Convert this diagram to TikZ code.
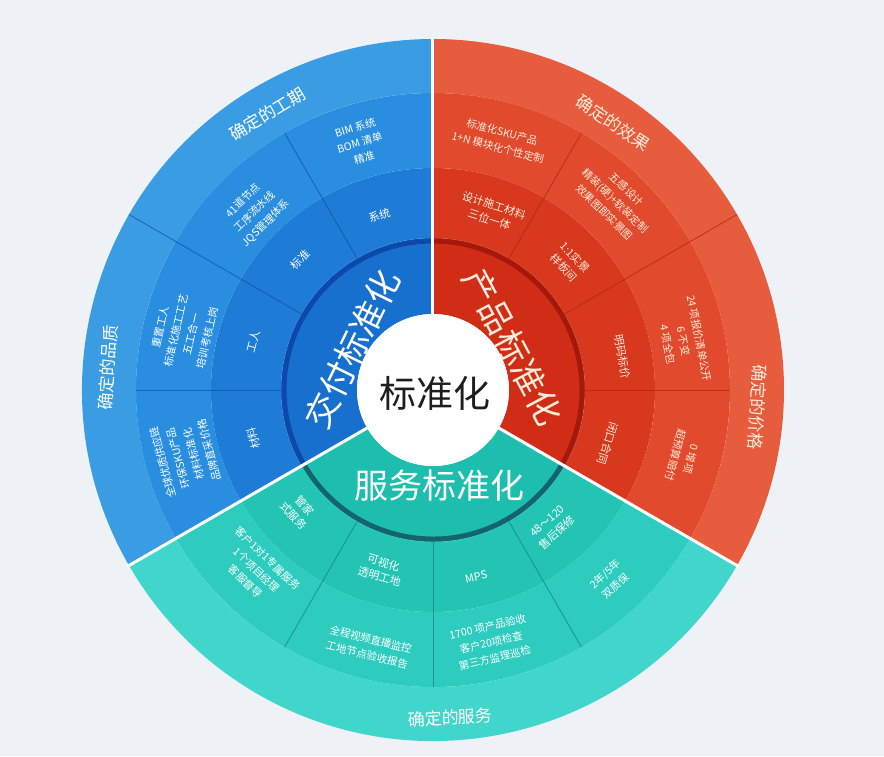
\documentclass[tikz,border=0pt]{standalone}
\usepackage{fontspec}
\setmainfont{Noto Sans CJK SC}
\definecolor{bg}{RGB}{238,242,247}
\definecolor{blueA}{RGB}{58,157,228}
\definecolor{blueB}{RGB}{42,142,224}
\definecolor{blueC}{RGB}{30,124,214}
\definecolor{blueD}{RGB}{24,112,206}
\definecolor{blueRing}{RGB}{14,72,170}
\definecolor{blueLine}{RGB}{20,80,160}
\definecolor{redA}{RGB}{232,92,62}
\definecolor{redB}{RGB}{226,74,45}
\definecolor{redC}{RGB}{216,56,30}
\definecolor{redD}{RGB}{208,44,22}
\definecolor{redRing}{RGB}{165,25,12}
\definecolor{redLine}{RGB}{170,40,20}
\definecolor{tealA}{RGB}{64,214,204}
\definecolor{tealB}{RGB}{46,204,190}
\definecolor{tealC}{RGB}{36,196,180}
\definecolor{tealD}{RGB}{30,190,174}
\definecolor{tealRing}{RGB}{20,100,110}
\definecolor{tealLine}{RGB}{20,130,130}
\definecolor{cream}{RGB}{255,236,218}
\definecolor{ink}{RGB}{30,30,30}
\newcommand\ringseg[5]{\fill[#5] (#1:#3) arc[start angle=#1,end angle=#2,radius=#3pt] -- (#2:#4) arc[start angle=#2,end angle=#1,radius=#4pt] -- cycle;}
\newcommand\divline[4]{\draw[#4, line width=0.9pt, opacity=0.7] (#1:#2) -- (#1:#3);}
\begin{document}
\begin{tikzpicture}[x=1pt,y=1pt,
  ttl/.style={font=\fontsize{17}{20}\selectfont},
  det/.style={align=center, font=\fontsize{10.5}{16}\selectfont},
  mid/.style={align=center, font=\fontsize{11}{15}\selectfont},
  big/.style={font=\fontsize{34}{38}\selectfont, inner sep=0pt}]
\fill[bg] (-433,-366) rectangle (451,390);
\useasboundingbox (-433,-366) rectangle (451,390);
% blue sector
\ringseg{90}{210}{76}{152}{blueD}
\ringseg{90}{210}{152}{222}{blueC}
\ringseg{90}{210}{222}{297}{blueB}
\ringseg{90}{210}{297}{351}{blueA}
% red sector
\ringseg{-30}{90}{76}{152}{redD}
\ringseg{-30}{90}{152}{222}{redC}
\ringseg{-30}{90}{222}{297}{redB}
\ringseg{-30}{90}{297}{351}{redA}
% teal sector
\ringseg{210}{330}{76}{152}{tealD}
\ringseg{210}{330}{152}{222}{tealC}
\ringseg{210}{330}{222}{297}{tealB}
\ringseg{210}{330}{297}{351}{tealA}
% dark rings
\draw[blueRing, line width=5pt] (90:149) arc[start angle=90,end angle=210,radius=149pt];
\draw[redRing, line width=5pt] (-30:149) arc[start angle=-30,end angle=90,radius=149pt];
\draw[tealRing, line width=5pt] (210:149) arc[start angle=210,end angle=330,radius=149pt];
% dividers
\divline{120}{152}{297}{blueLine}
\divline{150}{152}{351}{blueLine}
\divline{180}{152}{297}{blueLine}
\divline{60}{152}{297}{redLine}
\divline{30}{152}{351}{redLine}
\divline{0}{152}{297}{redLine}
\divline{240}{152}{297}{tealLine}
\divline{270}{152}{297}{tealLine}
\divline{300}{152}{297}{tealLine}
% white gaps
\draw[white, line width=3pt] (90:70) -- (90:353);
\draw[white, line width=3pt] (210:70) -- (210:353);
\draw[white, line width=3pt] (330:70) -- (330:353);
% centre
\node[circle, fill=white, minimum size=152pt, inner sep=0pt] (core) at (0,0) {};
\node[font=\fontsize{37}{40}\selectfont, text=ink] (coretext) at (2,-3) {标准化};
% titles
\node[big, text=white, rotate=64] (t1) at (-81,41) {交付标准化};
\node[big, text=cream, rotate=-62] (t2) at (80,43) {产品标准化};
\node[big, text=white] (t3) at (7,-96) {服务标准化};
% outer band
\node[ttl, text=white, rotate=31] (o1) at (121:322) {确定的工期};
\node[ttl, text=white, rotate=86] (o2) at (176:326) {确定的品质};
\node[ttl, text=cream, rotate=-34] (o3) at (56:322) {确定的效果};
\node[ttl, text=cream, rotate=-93] (o4) at (-3:325) {确定的价格};
\node[ttl, text=white, rotate=3] (o5) at (273:328) {确定的服务};
% middle ring
\node[mid, text=white, rotate=17] (m1) at (107:183) {系统};
\node[mid, text=white, rotate=46] (m2) at (135.6:186) {标准};
\node[mid, text=white, rotate=75] (m3) at (165:186) {工人};
\node[mid, text=white, rotate=105] (m4) at (195:186) {材料};
\node[mid, text=cream, rotate=-18] (m5) at (71.7:187) {设计施工材料\\三位一体};
\node[mid, text=cream, rotate=-47] (m6) at (43:187) {1:1实景\\样板间};
\node[mid, text=cream, rotate=-80] (m7) at (10:192) {明码标价};
\node[mid, text=cream, rotate=-107] (m8) at (-17:183) {闭口合同};
\node[mid, text=white, rotate=-48] (m9) at (222:180) {管家\\式服务};
\node[mid, text=white, rotate=-16] (m10) at (254:187) {可视化\\透明工地};
\node[mid, text=white, rotate=13] (m11) at (283:192) {MPS};
\node[mid, text=white, rotate=41] (m12) at (311:182) {48～120\\售后保修};
% detail ring
\node[det, text=white, rotate=16.5] (d1) at (106.5:258) {BIM 系统\\BOM 清单\\精准};
\node[det, text=white, rotate=45] (d2) at (135:252) {41道节点\\工序流水线\\JQS管理体系};
\node[det, text=white, rotate=77] (d3) at (167:256) {重置工人\\标准化施工工艺\\五工合一\\培训考核上岗};
\node[det, text=white, rotate=105] (d4) at (195:256) {全球优质供应链\\环保SKU产品\\材料标准化\\品牌直采价格};
\node[det, text=cream, rotate=-15] (d5) at (75:259) {标准化SKU产品\\1+N 模块化个性定制};
\node[det, text=cream, rotate=-44] (d6) at (46:263) {五感设计\\精装(硬)+软装定制\\效果图即实景图};
\node[det, text=cream, rotate=-79] (d7) at (11:255) {24 项报价清单公开\\6 不变\\4 项全包};
\node[det, text=cream, rotate=-105] (d8) at (-15:259) {0 增项\\超预算赔付};
\node[det, text=white, rotate=-44] (d9) at (225.6:252) {客户1对1专属服务\\1个项目经理\\客服督导};
\node[det, text=white, rotate=-14] (d10) at (256:265) {全程视频直播监控\\工地节点验收报告};
\node[det, text=white, rotate=13] (d11) at (283:259) {1700 项产品验收\\客户20项检查\\第三方监理巡检};
\node[det, text=white, rotate=43] (d12) at (313:260) {2年/5年\\双质保};
\end{tikzpicture}
\end{document}
